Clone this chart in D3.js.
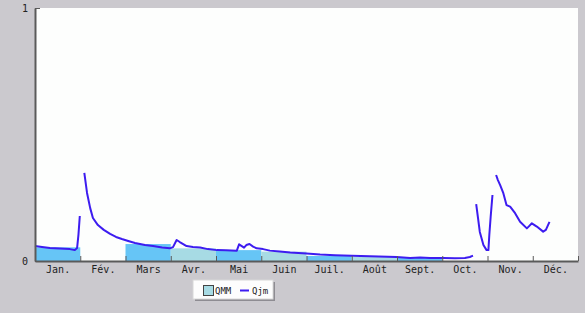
<!DOCTYPE html>
<html>
<head>
<meta charset="utf-8">
<script src="https://cdn.jsdelivr.net/npm/d3@7"></script>
<style>
  body { margin: 0; background: #cbc9ce; }
  svg { display: block; }
  .axis text { font-family: "DejaVu Sans Mono", monospace; font-size: 10px; fill: #222; }
  .axis path, .axis line { stroke: #5a5a5a; }
</style>
</head>
<body>
<svg id="chart" width="585" height="313"></svg>
<script>
var months = ["Jan.", "Fév.", "Mars", "Avr.", "Mai", "Juin", "Juil.", "Août", "Sept.", "Oct.", "Nov.", "Déc."];
// monthly mean flow (QMM), null where missing
var qmm = [0.054, null, 0.067, 0.050, 0.043, 0.037, 0.020, 0.016, 0.012, null, null, null];
// daily flow (Qjm): [month position, value], null = gap
var qjm = [
    [0, 0.059], [0.155, 0.055], [0.33, 0.051], [0.55, 0.049], [0.77, 0.047], [0.88, 0.043],
    [0.93, 0.051], [0.96, 0.103], [0.99, 0.178],
    [1.04, null],
    [1.09, 0.348], [1.15, 0.269], [1.22, 0.209], [1.28, 0.170], [1.39, 0.142], [1.52, 0.123],
    [1.66, 0.107], [1.79, 0.095], [1.92, 0.087], [2.06, 0.079], [2.21, 0.071], [2.43, 0.063],
    [2.61, 0.059], [2.81, 0.053], [2.98, 0.050], [3.05, 0.055], [3.13, 0.083], [3.20, 0.075],
    [3.35, 0.059], [3.49, 0.055], [3.65, 0.053], [3.82, 0.047], [4.02, 0.043], [4.22, 0.042],
    [4.46, 0.041], [4.51, 0.066], [4.57, 0.059], [4.62, 0.053], [4.67, 0.063], [4.74, 0.067],
    [4.82, 0.057], [4.90, 0.050], [5.04, 0.047], [5.19, 0.041], [5.41, 0.038], [5.64, 0.034],
    [6.00, 0.030], [6.30, 0.026], [6.63, 0.023], [7.00, 0.021], [7.40, 0.019], [7.99, 0.016],
    [8.29, 0.012], [8.51, 0.014], [8.73, 0.012], [9.02, 0.012], [9.28, 0.011], [9.50, 0.012],
    [9.61, 0.016], [9.68, 0.021],
    [9.72, null],
    [9.75, 0.225], [9.79, 0.170], [9.83, 0.115], [9.91, 0.063], [9.98, 0.043], [10.02, 0.043],
    [10.04, 0.103], [10.07, 0.175], [10.11, 0.261],
    [10.15, null],
    [10.19, 0.340], [10.23, 0.320], [10.28, 0.300], [10.35, 0.268], [10.42, 0.221], [10.50, 0.215],
    [10.61, 0.189], [10.72, 0.155], [10.87, 0.129], [10.92, 0.138], [10.98, 0.149], [11.09, 0.136],
    [11.23, 0.116], [11.29, 0.123], [11.37, 0.155]
];

var svg = d3.select("#chart");
var x = d3.scaleLinear().domain([0, 12]).range([35, 578]);
var y = d3.scaleLinear().domain([0, 1]).range([261, 8]);

// plot background
svg.append("rect")
    .attr("x", x(0)).attr("y", y(1))
    .attr("width", x(12) - x(0)).attr("height", y(0) - y(1))
    .attr("fill", "#fdfefd");

// QMM bars
svg.selectAll(".bar")
    .data(qmm.map(function(v, i) { return { i: i, v: v }; }).filter(function(d) { return d.v != null; }))
    .enter().append("rect")
    .attr("class", "bar")
    .attr("x", function(d) { return x(d.i); })
    .attr("width", function(d) { return x(d.i + 1) - x(d.i); })
    .attr("y", function(d) { return y(d.v); })
    .attr("height", function(d) { return y(0) - y(d.v); })
    .attr("fill", function(d) { return d.i % 2 == 0 ? "#66c5f6" : "#a7dbe4"; });

// Qjm line
var line = d3.line()
    .defined(function(d) { return d[1] != null; })
    .x(function(d) { return x(d[0]); })
    .y(function(d) { return y(d[1]); });

svg.append("path")
    .datum(qjm)
    .attr("d", line)
    .attr("fill", "none")
    .attr("stroke", "#3d1cf0")
    .attr("stroke-width", 2)
    .attr("stroke-linejoin", "round");

// x axis: ticks at month boundaries, labels centred
svg.append("g")
    .attr("class", "axis")
    .attr("transform", "translate(0," + y(0) + ")")
    .call(d3.axisBottom(x).tickValues(d3.range(1, 13)).tickSize(-5).tickFormat("").tickSizeOuter(0))
    .call(function(g) { g.select(".domain").attr("stroke-width", 2); });

svg.append("g")
    .attr("class", "axis")
    .attr("transform", "translate(0," + y(0) + ")")
    .call(d3.axisBottom(x).tickValues(d3.range(0.5, 12, 1)).tickSize(0).tickPadding(5)
        .tickFormat(function(d, i) { return months[i]; }))
    .call(function(g) { g.select(".domain").remove(); });

// y axis
svg.append("g")
    .attr("class", "axis")
    .attr("transform", "translate(" + x(0) + ",0)")
    .call(d3.axisLeft(y).tickValues([0, 1]).tickSize(-5).tickPadding(7).tickSizeOuter(0)
        .tickFormat(d3.format("d")))
    .call(function(g) { g.select(".domain").attr("stroke-width", 2); });

// legend
var lg = svg.append("g").attr("transform", "translate(193,280)");
lg.append("rect").attr("x", 2).attr("y", 2).attr("width", 80).attr("height", 19).attr("fill", "#8e8c92");
lg.append("rect").attr("width", 80).attr("height", 19).attr("fill", "#fdfdfd").attr("stroke", "#d8d8d8");
lg.append("rect").attr("x", 10.5).attr("y", 5.5).attr("width", 10).attr("height", 10)
    .attr("fill", "#a7dbe4").attr("stroke", "#444");
lg.append("text").attr("x", 22).attr("y", 14).text("QMM")
    .style("font-family", "DejaVu Sans Mono, monospace").style("font-size", "9px").attr("fill", "#222");
lg.append("line").attr("x1", 47).attr("x2", 56).attr("y1", 10.5).attr("y2", 10.5)
    .attr("stroke", "#3d1cf0").attr("stroke-width", 2);
lg.append("text").attr("x", 59).attr("y", 14).text("Qjm")
    .style("font-family", "DejaVu Sans Mono, monospace").style("font-size", "9px").attr("fill", "#222");
</script>
</body>
</html>
